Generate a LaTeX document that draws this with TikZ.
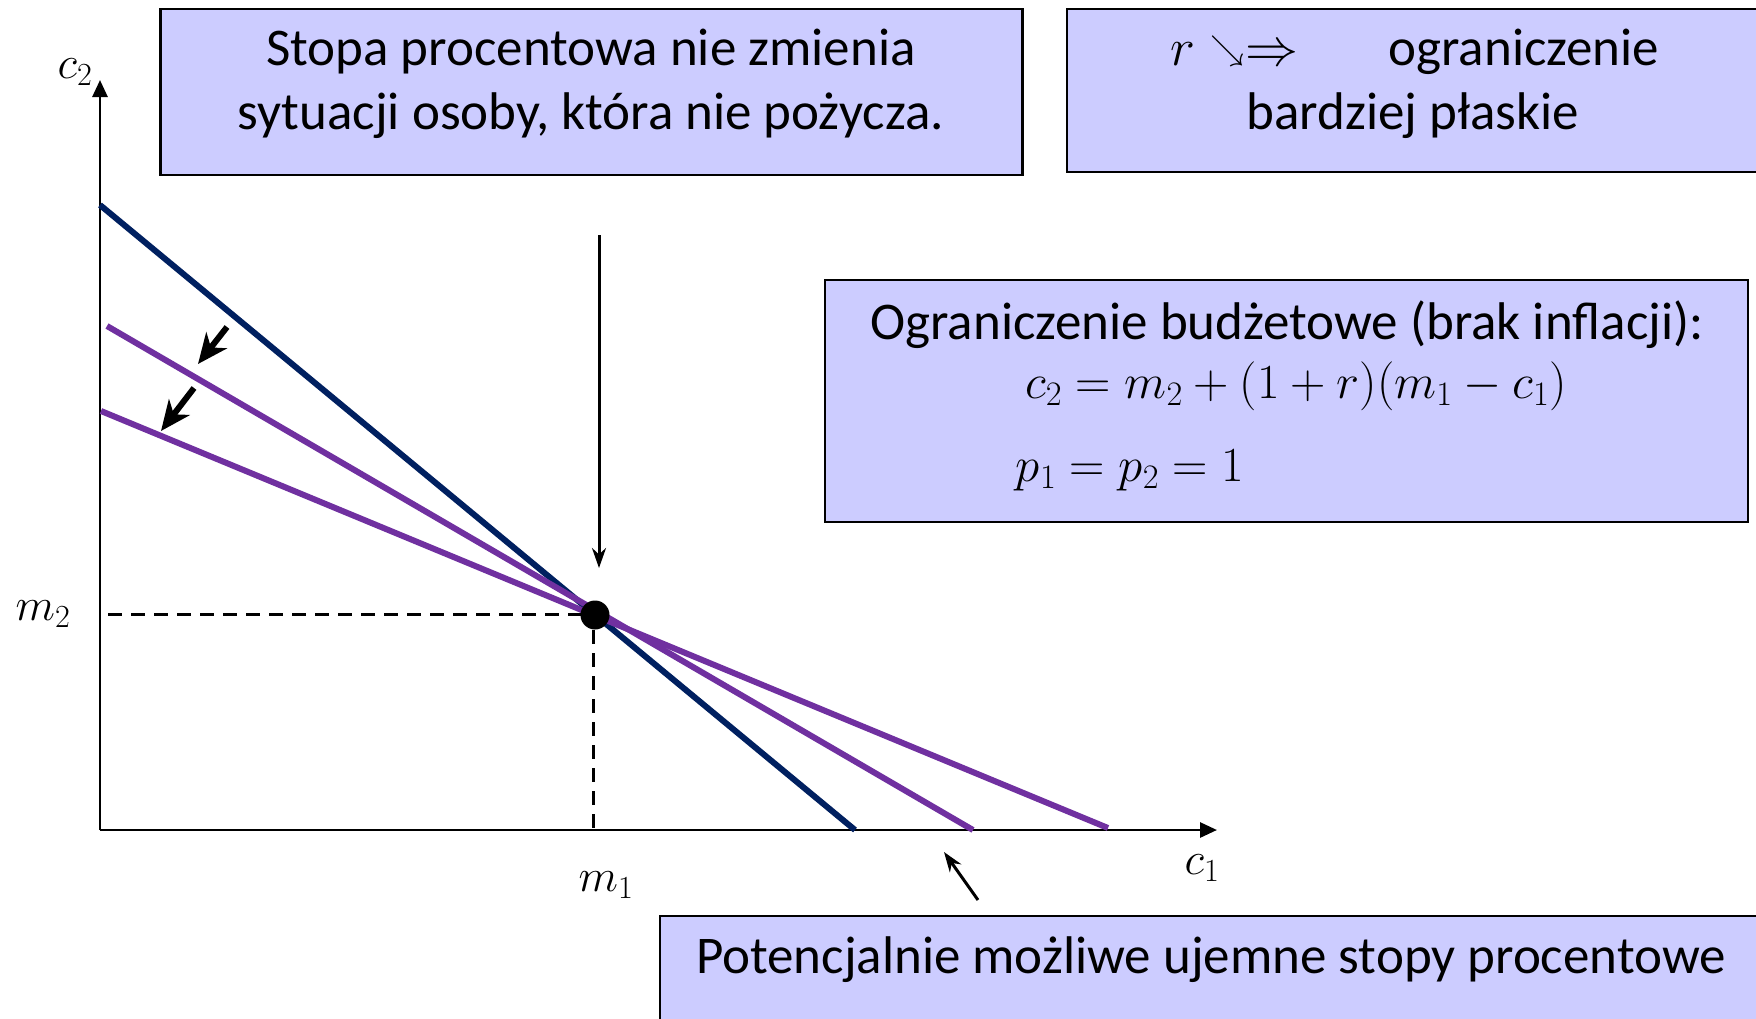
\RequirePackage{fix-cm}
\documentclass[tikz,border=0pt]{standalone}
\usepackage{fontspec}
\setmainfont{Carlito}
\usetikzlibrary{arrows.meta}
\definecolor{boxfill}{RGB}{204,204,255}
\definecolor{navyline}{RGB}{0,32,96}
\definecolor{purpleline}{RGB}{112,48,160}
\begin{document}
\begin{tikzpicture}[x=1pt,y=-1pt,
  infobox/.style={draw=black,line width=2.5pt,fill=boxfill,inner sep=0pt},
  txt/.style={font=\fontsize{53}{64}\selectfont,align=center,inner sep=0pt},
  eqtxt/.style={font=\fontsize{49}{58}\selectfont,align=center,inner sep=0pt},
  mathlbl/.style={font=\fontsize{46}{50}\selectfont,inner sep=0pt},
  axisline/.style={line width=2.8pt,-{Triangle[length=17,width=15]}},
  budget/.style={line width=6pt},
  guide/.style={line width=3pt,dash pattern=on 14pt off 9pt},
  thinarrow/.style={line width=3pt,-{Stealth[length=20,width=14]}},
  thickarrow/.style={line width=6pt,-{Stealth[length=30,width=26,inset=9]}}]
\useasboundingbox (0,0) rectangle (1756,1018);
\fill[white] (0,0) rectangle (1756,1018);
\clip (0,0) rectangle (1756,1018);

% boxes
\node[infobox,minimum width=862,minimum height=166] (box1) at (591.5,92) {};
\node[txt] (t1) at (591,84) {Stopa procentowa nie zmienia\\sytuacji osoby, która nie pożycza.};

\node[infobox,minimum width=694,minimum height=163] (box2) at (1414,90.5) {};
\node[txt] (t2a) at (1415,52) {$r$\hspace{0.28em}\raisebox{0.12em}{\fontsize{34}{34}\selectfont$\searrow$}\hspace{0.02em}$\Rightarrow$\hspace{1.7em}ograniczenie};
\node[txt] (t2b) at (1413,116) {bardziej płaskie};

\node[infobox,minimum width=923,minimum height=242] (box3) at (1286.5,401) {};
\node[txt] (t3a) at (1287,325) {Ograniczenie budżetowe (brak inflacji):};
\node[eqtxt] (t3b) at (1296,386) {$c_2=m_2+(1+r)(m_1-c_1)$};
\node[eqtxt] (t3c) at (1130,470) {$p_1=p_2=1$};

\node[infobox,minimum width=1102,minimum height=150] (box4) at (1211,991) {};
\node[txt] (t4) at (1211,960) {Potencjalnie możliwe ujemne stopy procentowe};

% axes
\coordinate (O) at (100,830);
\coordinate (ytip) at (100,80);
\coordinate (xtip) at (1217,830);
\draw[axisline] (O) -- (ytip);
\draw[axisline] (O) -- (xtip);
\node[mathlbl] (lc2) at (75,72) {$c_2$};
\node[mathlbl] (lc1) at (1202,868) {$c_1$};
\node[mathlbl] (lm2) at (43,614) {$m_2$};
\node[mathlbl] (lm1) at (606,885) {$m_1$};

% budget lines
\coordinate (b0) at (100,205);
\coordinate (b1) at (855,830);
\coordinate (p0) at (107,326);
\coordinate (p1) at (973,830);
\coordinate (q0) at (101,411);
\coordinate (q1) at (1108,828);
\draw[budget,navyline] (b0) -- (b1);
\draw[budget,purpleline] (p0) -- (p1);
\draw[budget,purpleline] (q0) -- (q1);

% guides
\coordinate (gh0) at (108,614);
\coordinate (gh1) at (582,614);
\coordinate (gv0) at (593,630);
\coordinate (gv1) at (593,830);
\draw[guide] (gh0) -- (gh1);
\draw[guide] (gv0) -- (gv1);

% endowment point
\node[circle,fill=black,minimum size=29,inner sep=0pt] (P) at (595,615) {};

% arrows
\coordinate (va0) at (599,235);
\coordinate (va1) at (599,568);
\draw[thinarrow] (va0) -- (va1);
\coordinate (s1a) at (227,327);
\coordinate (s1b) at (198,364);
\coordinate (s2a) at (194,388);
\coordinate (s2b) at (161,431);
\draw[thickarrow] (s1a) -- (s1b);
\draw[thickarrow] (s2a) -- (s2b);
\coordinate (na0) at (978,900);
\coordinate (na1) at (944,852);
\draw[thinarrow] (na0) -- (na1);
\end{tikzpicture}
\end{document}
